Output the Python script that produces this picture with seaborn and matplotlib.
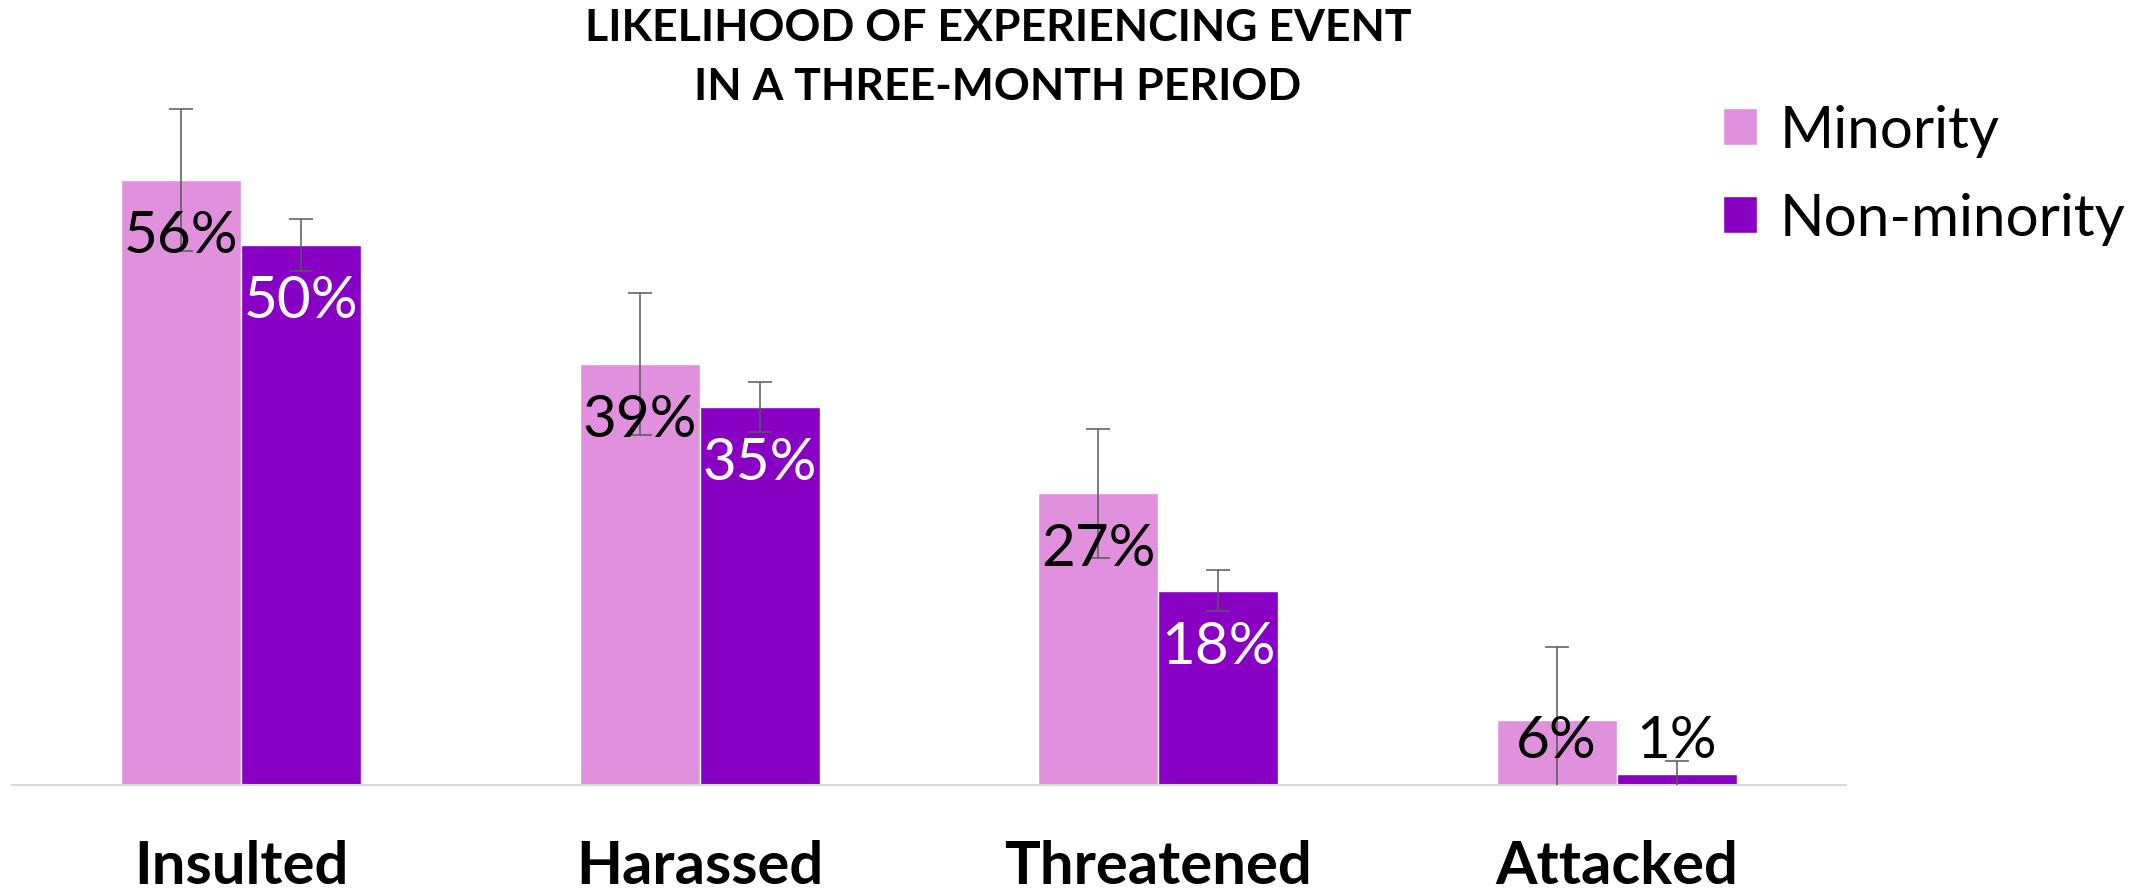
import matplotlib
matplotlib.use("Agg")
import matplotlib.pyplot as plt
import seaborn as sns
import pandas as pd

# ---- data ----
categories = ["Insulted", "Harassed", "Threatened", "Attacked"]
groups = ["Minority", "Non-minority"]
minority_pct = [56, 39, 27, 6]
nonminority_pct = [50, 35, 18, 1]
minority_err = [6.6, 6.6, 6.0, 6.8]
nonminority_err = [2.4, 2.3, 1.9, 1.2]
title_lines = ["LIKELIHOOD OF EXPERIENCING EVENT", "IN A THREE-MONTH PERIOD"]

colors = {"Minority": "#E090DD", "Non-minority": "#8700C4"}

df = pd.DataFrame({
    "event": categories * 2,
    "group": [groups[0]] * 4 + [groups[1]] * 4,
    "pct": minority_pct + nonminority_pct,
})
errs = {"Minority": minority_err, "Non-minority": nonminority_err}
vals = {"Minority": minority_pct, "Non-minority": nonminority_pct}

sns.set_theme(style="white")
plt.rcParams["font.family"] = ["Lato", "DejaVu Sans"]
plt.rcParams["text.color"] = "black"

W, H = 2154, 895
fig = plt.figure(figsize=(W / 100, H / 100), dpi=100)
ax = fig.add_axes([12 / W, (H - 786) / H, (1846 - 12) / W, (786 - 105.6) / H])

sns.barplot(data=df, x="event", y="pct", hue="group", order=categories,
            hue_order=groups, palette=colors, width=0.5235, gap=0,
            errorbar=None, saturation=1, ax=ax, legend=True)

ax.set_xlim(-0.5, 3.5)
ax.set_ylim(0, 63)
ax.set_xlabel("")
ax.set_ylabel("")
ax.set_yticks([])
for s in ["top", "right", "left"]:
    ax.spines[s].set_visible(False)
ax.spines["bottom"].set_color("#D9D9D9")
ax.spines["bottom"].set_linewidth(1.5)
ax.tick_params(axis="x", length=0, pad=39)
for lab in ax.get_xticklabels():
    lab.set_fontsize(43)
    lab.set_fontweight("bold")
    lab.set_color("black")

# error bars + value labels
for cont, g in zip(ax.containers, groups):
    for i, bar in enumerate(cont):
        cx = bar.get_x() + bar.get_width() / 2
        v = bar.get_height()
        ax.errorbar(cx, v, yerr=errs[g][i], fmt="none", ecolor="#595959",
                    elinewidth=1.1, capsize=8.6, capthick=1.1, zorder=3)
        txt = f"{vals[g][i]}%"
        if v >= 10:
            col = "black" if g == "Minority" else "white"
            ax.annotate(txt, xy=(cx, v), xytext=(0, -51.8),
                        textcoords="offset points", ha="center",
                        va="baseline", fontsize=42, color=col, zorder=4)
        else:
            ax.annotate(txt, xy=(cx, 0), xytext=(0, 20.2),
                        textcoords="offset points", ha="center",
                        va="baseline", fontsize=42, color="black", zorder=4)

# legend
handles, labels = ax.get_legend_handles_labels()
ax.get_legend().remove()
fig.legend(handles, labels, loc="upper left",
           bbox_to_anchor=(1723 / W, 1 - 105 / H), frameon=False,
           fontsize=42, handlelength=0.59, handleheight=0.59,
           handletextpad=0.38, labelspacing=0.6, borderpad=0,
           borderaxespad=0, labelcolor="black")

# title
fig.text(998 / W, 1 - 41 / H, title_lines[0], ha="center", va="baseline",
         fontsize=32, fontweight="bold", color="black")
fig.text(998 / W, 1 - 100 / H, title_lines[1], ha="center", va="baseline",
         fontsize=32, fontweight="bold", color="black")

fig.savefig("out.png", dpi=100)
